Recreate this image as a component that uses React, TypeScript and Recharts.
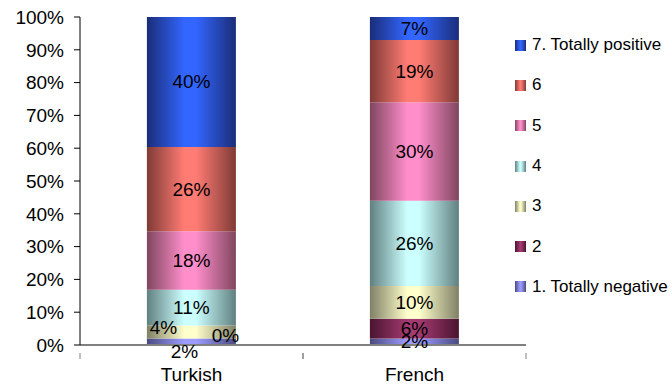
import React from "react";
import { BarChart, Bar, XAxis, YAxis, LabelList } from "recharts";

const languages = ["Turkish", "French"];
const seriesNames = ["1. Totally negative", "2", "3", "4", "5", "6", "7. Totally positive"];
const score1 = [2, 2];
const score2 = [0, 6];
const score3 = [4, 10];
const score4 = [11, 26];
const score5 = [18, 30];
const score6 = [26, 19];
const score7 = [40, 7];
const yTicks = [0, 0.1, 0.2, 0.3, 0.4, 0.5, 0.6, 0.7, 0.8, 0.9, 1];

const seriesValues = [score1, score2, score3, score4, score5, score6, score7];

// bright centre / dark edge pairs for the shaded bars
const shades = [
  { mid: "#9c9cff", edge: "#4a4a80" },
  { mid: "#a33a70", edge: "#4a1430" },
  { mid: "#ffffcc", edge: "#808066" },
  { mid: "#ccffff", edge: "#618080" },
  { mid: "#ff8ecb", edge: "#80465f" },
  { mid: "#ff7c74", edge: "#803a36" },
  { mid: "#3366ff", edge: "#1a2d78" },
];

const data = languages.map((lang, i) => {
  const row: Record<string, string | number> = { lang };
  seriesNames.forEach((s, k) => (row["s" + k] = seriesValues[k][i]));
  return row;
});

const W = 672;
const H = 385;
const margin = { top: 17, right: 146, bottom: 0, left: 0 };
const yAxisWidth = 80;
const xAxisHeight = 40;
const plotLeft = margin.left + yAxisWidth;
const plotWidth = W - plotLeft - margin.right;

// nudges for the labels of the very thin segments
const labelNudge: Record<string, [number, number]> = {
  "0-0": [-7, 10],
  "1-0": [34, -3],
  "2-0": [-28, -5],
};

const font = "'Liberation Sans', Arial, sans-serif";
const fontSize = 19;

function Pct({ x, y, k, i }: { x: number; y: number; k: number; i: number }) {
  const nudge = labelNudge[`${k}-${i}`] || [0, 0];
  return (
    <text
      x={x + nudge[0]}
      y={y + nudge[1]}
      textAnchor="middle"
      dominantBaseline="central"
      fontSize={fontSize}
      fontFamily={font}
      fill="#000"
    >
      {seriesValues[k][i]}%
    </text>
  );
}

function makeLabel(k: number) {
  return (props: any) => {
    const { x, y, width, height } = props;
    const cx = x + width / 2;
    // zero-height segments get no rect, so find the category from the bar position
    const i = Math.min(languages.length - 1, Math.floor(((cx - plotLeft) / plotWidth) * languages.length));
    const lowerEmpty = k > 0 && seriesValues[k - 1][i] === 0;
    return (
      <g>
        <Pct x={cx} y={y + height / 2} k={k} i={i} />
        {lowerEmpty && <Pct x={cx} y={y + height} k={k - 1} i={i} />}
      </g>
    );
  };
}

function CategoryTick(props: any) {
  const { x, y, payload } = props;
  const half = plotWidth / languages.length / 2;
  return (
    <g>
      <line x1={x - half} y1={y} x2={x - half} y2={y + 6} stroke="#808080" />
      <line x1={x + half} y1={y} x2={x + half} y2={y + 6} stroke="#808080" />
      <text x={x} y={y + 28} textAnchor="middle" fontSize={fontSize} fontFamily={font} fill="#000">
        {payload.value}
      </text>
    </g>
  );
}

function LegendBox() {
  return (
    <div style={{ position: "absolute", left: 515, top: 25, width: 157, fontFamily: font, fontSize: 17, color: "#000" }}>
      {seriesNames
        .map((name, k) => ({ name, k }))
        .reverse()
        .map(({ name, k }) => (
          <div key={name} style={{ height: 40.3, display: "flex", alignItems: "center", whiteSpace: "nowrap" }}>
            <span
              style={{
                width: 11,
                height: 11,
                marginRight: 6,
                flexShrink: 0,
                background: `linear-gradient(to right, ${shades[k].edge}, ${shades[k].mid} 45%, ${shades[k].mid} 55%, ${shades[k].edge})`,
              }}
            />
            {name}
          </div>
        ))}
    </div>
  );
}

export default function App() {
  return (
    <div style={{ position: "relative", width: W, height: H, background: "#fff" }}>
      <style>{`body{margin:0}`}</style>
      <BarChart
        width={W}
        height={H}
        data={data}
        stackOffset="expand"
        barCategoryGap="30%"
        margin={margin}
      >
        <defs>
          {shades.map((c, k) => (
            <linearGradient key={k} id={"shade" + k} x1="0" y1="0" x2="1" y2="0">
              <stop offset="0" stopColor={c.edge} />
              <stop offset="0.42" stopColor={c.mid} />
              <stop offset="0.55" stopColor={c.mid} />
              <stop offset="1" stopColor={c.edge} />
            </linearGradient>
          ))}
        </defs>
        <XAxis
          dataKey="lang"
          height={xAxisHeight}
          axisLine={{ stroke: "#808080", strokeWidth: 2 }}
          tickLine={false}
          tick={<CategoryTick />}
          interval={0}
        />
        <YAxis
          width={yAxisWidth}
          domain={[0, 1]}
          ticks={yTicks}
          tickFormatter={(v: number) => `${Math.round(v * 100)}%`}
          axisLine={{ stroke: "#000" }}
          tickLine={{ stroke: "#000" }}
          tickSize={6}
          tickMargin={10}
          tick={{ fontSize, fontFamily: font, fill: "#000" }}
        />
        {seriesNames.map((name, k) => (
          <Bar
            key={name}
            dataKey={"s" + k}
            name={name}
            stackId="a"
            fill={`url(#shade${k})`}
            isAnimationActive={false}
          >
            <LabelList dataKey={"s" + k} content={makeLabel(k)} />
          </Bar>
        ))}
      </BarChart>
      <LegendBox />
    </div>
  );
}
